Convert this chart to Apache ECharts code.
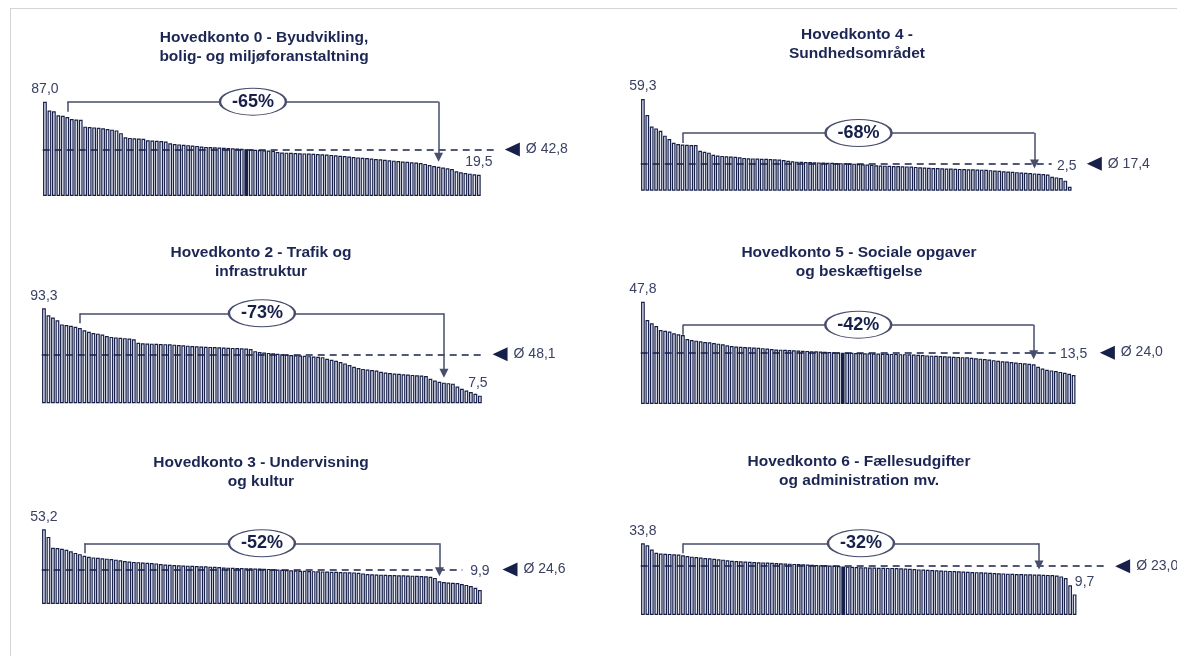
<!DOCTYPE html>
<html>
<head>
<meta charset="utf-8">
<title>Hovedkonti</title>
<script src="https://cdn.jsdelivr.net/npm/echarts@6/dist/echarts.min.js"></script>
<style>
html, body { margin: 0; padding: 0; background: #fff; }
#main { width: 1177px; height: 656px; }
</style>
</head>
<body>
<div id="main"></div>
<script>
var titles = [
    'Hovedkonto 0 - Byudvikling,\nbolig- og miljøforanstaltning',
    'Hovedkonto 2 - Trafik og\ninfrastruktur',
    'Hovedkonto 3 - Undervisning\nog kultur',
    'Hovedkonto 4 -\nSundhedsområdet',
    'Hovedkonto 5 - Sociale opgaver\nog beskæftigelse',
    'Hovedkonto 6 - Fællesudgifter\nog administration mv.'
];
var averages = [42.8, 48.1, 24.6, 17.4, 24.0, 23.0];
var spreads = ['-65%', '-73%', '-52%', '-68%', '-42%', '-32%'];

// værdier pr. kommune, sorteret faldende
var hk0 = [87.0, 78.9, 78.2, 74.5, 74.0, 72.8, 71.0, 70.6, 70.4, 64.0,
    63.6, 63.3, 63.0, 62.4, 61.8, 61.2, 60.5, 58.0, 54.2, 53.6,
    53.3, 53.1, 52.8, 51.5, 51.2, 51.0, 50.7, 50.2, 48.6, 48.0,
    47.6, 47.2, 46.9, 46.6, 46.2, 45.6, 45.3, 45.1, 44.9, 44.7,
    44.5, 44.3, 44.0, 43.8, 43.5, 43.2, 42.9, 42.6, 42.4, 42.2,
    42.0, 41.7, 40.6, 40.2, 40.0, 39.8, 39.6, 39.4, 39.3, 39.1,
    39.0, 38.8, 38.5, 38.2, 37.9, 37.6, 37.2, 36.8, 36.4, 36.0,
    35.6, 35.3, 35.0, 34.6, 34.2, 33.8, 33.4, 33.0, 32.6, 32.2,
    31.8, 31.5, 31.2, 30.8, 30.4, 29.6, 28.5, 27.6, 27.0, 26.2,
    25.5, 24.8, 22.8, 21.9, 21.2, 20.6, 20.0, 19.5];
var hk2 = [93.3, 86.4, 84.2, 81.6, 77.5, 76.8, 76.2, 75.1, 74.0, 71.8,
    70.2, 69.1, 68.4, 67.5, 66.0, 65.2, 64.7, 64.3, 64.0, 63.6,
    62.8, 59.4, 59.0, 58.8, 58.6, 58.5, 58.3, 58.1, 57.9, 57.6,
    57.3, 56.9, 56.6, 56.3, 56.0, 55.8, 55.6, 55.4, 55.2, 55.0,
    54.8, 54.6, 54.4, 54.2, 54.0, 53.7, 53.3, 51.2, 50.4, 49.9,
    49.5, 49.1, 48.7, 48.2, 47.8, 47.4, 47.1, 46.9, 46.6, 46.3,
    46.0, 45.7, 45.3, 43.8, 42.7, 41.8, 40.6, 39.2, 37.5, 35.8,
    34.6, 33.8, 33.2, 32.7, 32.2, 31.0, 30.2, 29.7, 29.3, 28.9,
    28.6, 28.3, 27.9, 27.5, 27.2, 26.8, 24.0, 22.3, 21.1, 20.3,
    19.8, 19.3, 16.5, 14.2, 12.6, 11.1, 9.4, 7.5];
var hk3 = [53.2, 47.8, 40.1, 39.8, 39.3, 38.6, 37.6, 36.4, 35.5, 34.4,
    33.6, 33.2, 32.9, 32.6, 32.3, 32.0, 31.6, 31.1, 30.6, 30.3,
    30.0, 29.8, 29.6, 29.4, 29.2, 28.9, 28.4, 28.1, 27.9, 27.7,
    27.6, 27.4, 27.3, 27.2, 27.0, 26.9, 26.8, 26.6, 26.5, 26.3,
    26.0, 25.9, 25.8, 25.7, 25.6, 25.5, 25.4, 25.3, 25.2, 25.1,
    25.0, 24.8, 24.6, 24.4, 24.2, 24.0, 23.8, 23.7, 23.6, 23.5,
    23.4, 23.3, 23.2, 23.1, 23.0, 22.9, 22.8, 22.7, 22.6, 22.5,
    22.2, 21.8, 21.4, 21.2, 21.0, 20.9, 20.8, 20.7, 20.6, 20.5,
    20.4, 20.3, 20.2, 20.1, 19.9, 19.7, 19.4, 18.6, 16.2, 15.6,
    15.3, 15.1, 14.9, 14.2, 13.6, 12.8, 11.5, 9.9];
var hk4 = [59.3, 49.0, 41.5, 40.3, 38.8, 35.6, 33.4, 31.0, 30.2, 29.8,
    29.7, 29.6, 29.5, 25.8, 25.2, 24.6, 23.2, 22.8, 22.5, 22.3,
    22.1, 21.9, 21.6, 21.2, 21.0, 20.9, 20.8, 20.7, 20.6, 20.5,
    20.3, 20.1, 19.8, 19.3, 19.0, 18.8, 18.7, 18.6, 18.5, 18.4,
    18.3, 18.2, 18.1, 18.0, 17.9, 17.8, 17.7, 17.6, 17.5, 17.3,
    17.1, 16.9, 16.7, 16.5, 16.3, 16.2, 16.1, 16.0, 15.9, 15.8,
    15.7, 15.6, 15.4, 15.2, 15.0, 14.8, 14.7, 14.6, 14.5, 14.4,
    14.3, 14.2, 14.1, 14.0, 13.9, 13.8, 13.7, 13.6, 13.5, 13.3,
    13.1, 12.9, 12.6, 12.4, 12.2, 12.0, 11.8, 11.6, 11.4, 11.2,
    11.0, 10.8, 10.5, 9.0, 8.6, 8.2, 6.5, 2.5];
var hk5 = [47.8, 39.2, 37.7, 36.4, 34.6, 34.2, 33.9, 33.0, 32.6, 32.2,
    30.4, 29.9, 29.6, 29.3, 29.0, 28.8, 28.5, 28.2, 27.9, 27.4,
    27.1, 26.9, 26.7, 26.6, 26.5, 26.4, 26.3, 26.1, 25.9, 25.7,
    25.5, 25.4, 25.3, 25.2, 25.1, 25.0, 24.9, 24.8, 24.7, 24.6,
    24.5, 24.4, 24.3, 24.2, 24.1, 24.0, 23.9, 23.9, 23.8, 23.8,
    23.7, 23.7, 23.6, 23.6, 23.5, 23.5, 23.4, 23.4, 23.3, 23.3,
    23.2, 23.1, 23.0, 22.9, 22.7, 22.6, 22.5, 22.4, 22.3, 22.2,
    22.1, 22.0, 21.9, 21.8, 21.6, 21.4, 21.2, 21.0, 20.8, 20.5,
    20.2, 20.0, 19.8, 19.6, 19.4, 19.2, 19.0, 18.8, 18.6, 17.4,
    16.6, 16.0, 15.7, 15.4, 15.0, 14.6, 14.1, 13.5];
var hk6 = [33.8, 32.9, 30.9, 29.3, 29.0, 28.9, 28.8, 28.6, 28.5, 28.2,
    27.8, 27.5, 27.3, 27.1, 26.9, 26.7, 26.5, 26.3, 26.1, 25.8,
    25.6, 25.4, 25.3, 25.2, 25.1, 25.0, 24.9, 24.8, 24.7, 24.6,
    24.5, 24.4, 24.3, 24.2, 24.1, 24.0, 23.9, 23.8, 23.7, 23.6,
    23.5, 23.4, 23.3, 23.2, 23.1, 22.9, 22.8, 22.7, 22.6, 22.5,
    22.5, 22.4, 22.4, 22.3, 22.3, 22.2, 22.2, 22.1, 22.0, 21.9,
    21.8, 21.7, 21.5, 21.4, 21.3, 21.2, 21.1, 21.0, 20.9, 20.8,
    20.7, 20.6, 20.5, 20.4, 20.3, 20.2, 20.1, 20.0, 19.9, 19.8,
    19.7, 19.6, 19.5, 19.4, 19.3, 19.3, 19.2, 19.2, 19.1, 19.1,
    19.0, 18.9, 18.8, 18.6, 18.2, 17.4, 14.0, 9.7];
var accounts = [hk0, hk2, hk3, hk4, hk5, hk6];
var highlighted = [45, -1, -1, -1, 45, 45];   // den fremhævede kommune
var bracketFrom = [5, 8, 9, 9, 9, 9];
var bracketTo = [88, 89, 88, 89, 88, 89];

// placering af de seks små diagrammer (pixels)
var panels = [
    {left: 42.7, top: 101.7, height: 94.3, step: 4.473, tx: 264, ty: 28, drop: 0, lineEnd: 101.3, triAt: 104.5, minOnLine: false, minDx: 0},
    {left: 41.7, top: 308.3, height: 95, step: 4.494, tx: 261, ty: 243.5, drop: 5, lineEnd: 98.2, triAt: 101.5, minOnLine: false, minDx: -2},
    {left: 41.7, top: 529.3, height: 74.7, step: 4.494, tx: 261, ty: 453.5, drop: 14, lineEnd: 93.1, triAt: 103.7, minOnLine: true, minDx: 0},
    {left: 640.7, top: 99, height: 91.7, step: 4.40, tx: 857, ty: 25.5, drop: 34, lineEnd: 92.9, triAt: 102.6, minOnLine: true, minDx: -3},
    {left: 640.7, top: 301.7, height: 102.3, step: 4.44, tx: 859, ty: 243.5, drop: 23, lineEnd: 93.5, triAt: 104.6, minOnLine: true, minDx: 0},
    {left: 640.7, top: 543.3, height: 71.7, step: 4.45, tx: 859, ty: 452.5, drop: 0, lineEnd: 104.3, triAt: 107.8, minOnLine: false, minDx: 10}
];
var X_SPAN = 110;
var NAVY = '#17204b', LINE = '#474d6b', TEXT = '#3a4163';
var FONT = '"Liberation Sans", Arial, sans-serif';

function fmt(v) {
    return v.toFixed(1).replace('.', ',');
}

var option = {
    animation: false,
    backgroundColor: '#fff',
    title: [], grid: [], xAxis: [], yAxis: [], series: [],
    graphic: [
        {type: 'line', shape: {x1: 10, y1: 8.5, x2: 1177, y2: 8.5}, style: {stroke: '#d4d4d4', lineWidth: 1}},
        {type: 'line', shape: {x1: 10.5, y1: 8, x2: 10.5, y2: 656}, style: {stroke: '#d4d4d4', lineWidth: 1}}
    ]
};

panels.forEach(function (p, k) {
    var vals = accounts[k];
    var max = vals[0];
    var avg = averages[k];
    var last = vals.length - 1;
    var px = function (d) { return d * max / p.height; };  // pixels -> værdi

    option.title.push({
        text: titles[k], left: p.tx, top: p.ty, textAlign: 'center', padding: 0,
        textStyle: {fontFamily: FONT, fontSize: 15.5, fontWeight: 'bold', color: '#1c2654', lineHeight: 19}
    });
    option.grid.push({left: p.left, top: p.top, width: p.step * X_SPAN, height: p.height});
    option.xAxis.push({type: 'value', gridIndex: k, min: -0.5, max: X_SPAN - 0.5, show: false});
    option.yAxis.push({type: 'value', gridIndex: k, min: 0, max: max, show: false});

    var data = vals.map(function (v, i) {
        if (i === highlighted[k]) {
            return {value: [i, v], itemStyle: {color: NAVY}};
        }
        return [i, v];
    });

    var f = bracketFrom[k], t = bracketTo[k];
    var yb = max - px(p.drop);
    var arrowEnd = vals[t] + px(9.5);
    var bracket = {color: LINE, width: 1.5, type: 'solid'};

    var minLabel = p.minOnLine ?
        {coord: [last, avg], label: {position: 'inside', offset: [p.minDx, 2]}} :
        {coord: [last, vals[last]], label: {position: 'top', distance: 5, offset: [p.minDx, 0]}};
    minLabel.symbol = 'circle';
    minLabel.symbolSize = 1;
    minLabel.itemStyle = {color: 'rgba(0,0,0,0)'};
    minLabel.label.show = true;
    minLabel.label.formatter = fmt(vals[last]);

    option.series.push({
        type: 'bar',
        xAxisIndex: k,
        yAxisIndex: k,
        data: data,
        barWidth: '84%',
        silent: true,
        itemStyle: {color: '#e8eaf2', borderColor: NAVY, borderWidth: 1.2},
        markLine: {
            silent: true,
            symbol: ['none', 'none'],
            label: {show: false},
            data: [
                [{coord: [-0.5, avg], lineStyle: {color: NAVY, width: 1.5, type: [7, 5]}}, {coord: [p.lineEnd, avg]}],
                [{coord: [f, yb - px(10)], lineStyle: bracket}, {coord: [f, yb]}],
                [{coord: [f, yb], lineStyle: bracket}, {coord: [t, yb]}],
                [{coord: [t, yb], lineStyle: {color: LINE, width: 1.5, type: 'solid'}},
                    {coord: [t, arrowEnd], symbol: 'triangle', symbolSize: 9}]
            ]
        },
        markPoint: {
            silent: true,
            z: 10,
            label: {fontFamily: FONT, fontSize: 14, color: TEXT},
            data: [
                {
                    coord: [0, max], symbol: 'circle', symbolSize: 1, itemStyle: {color: 'rgba(0,0,0,0)'},
                    label: {show: true, position: 'top', distance: 5, formatter: fmt(max)}
                },
                minLabel,
                {
                    coord: [(f + t) / 2, yb], symbol: 'circle', symbolSize: [66, 27],
                    itemStyle: {color: '#fff', borderColor: LINE, borderWidth: 1.6},
                    label: {show: true, position: 'inside', formatter: spreads[k], fontSize: 18, fontWeight: 'bold', color: NAVY}
                },
                {
                    coord: [p.triAt, avg], symbol: 'triangle', symbolRotate: 90, symbolSize: [14, 15],
                    itemStyle: {color: NAVY},
                    label: {show: true, position: 'right', distance: 6, formatter: 'Ø ' + fmt(avg)}
                }
            ]
        }
    });
});

var chart = echarts.init(document.getElementById('main'));
chart.setOption(option);
</script>
</body>
</html>
